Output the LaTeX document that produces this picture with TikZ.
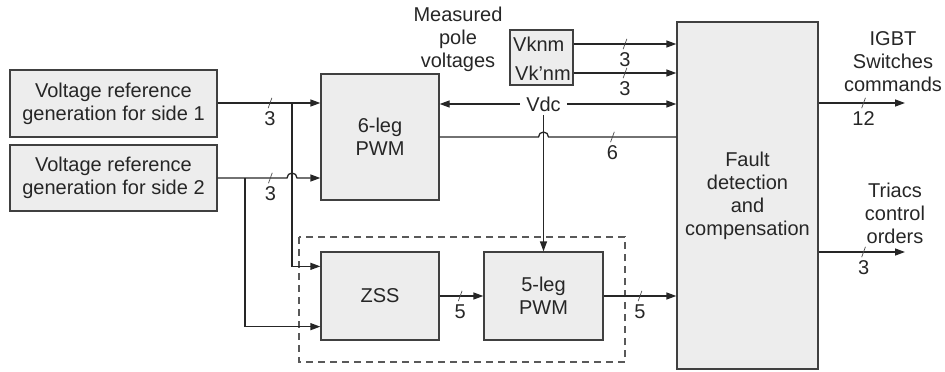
\documentclass[tikz,border=0pt]{standalone}
\usepackage{fontspec}
\setmainfont{Liberation Sans}
\usetikzlibrary{arrows.meta, calc}
\tikzset{
    block/.style={draw=black!75, fill=black!7, line width=1.3pt, align=center, inner sep=2pt},
    conn/.style={line width=1.3pt, black!85},
    arr/.style={conn, -{Triangle[length=10pt, width=7pt]}},
    busmark/.style={draw=black!70, line width=0.7pt, inner sep=0pt, minimum width=11pt, minimum height=0pt, rotate=70},
    num/.style={below=8pt, inner sep=0pt},
    dashbox/.style={draw=black!65, line width=1.3pt, dash pattern=on 7pt off 5pt}
}

\begin{document}
\begin{tikzpicture}[x=1pt, y=-1pt, font=\fontsize{20}{23}\selectfont, text=black!85]
    \useasboundingbox (0,0) rectangle (945,372);
    % blocks
    \node[block, minimum width=207pt, minimum height=67pt] (ref1) at (113.5,103.5) {Voltage reference\\generation for side 1};
    \node[block, minimum width=207pt, minimum height=66pt] (ref2) at (113.5,178) {Voltage reference\\generation for side 2};
    \node[block, minimum width=118pt, minimum height=126pt] (pwm6) at (380,137) {6-leg\\PWM};
    \node[block, minimum width=118pt, minimum height=88pt] (zss) at (380,296) {ZSS};
    \node[block, minimum width=119pt, minimum height=88pt] (pwm5) at (543.5,296) {5-leg\\PWM};
    \node[block, minimum width=141pt, minimum height=347pt] (fault) at (747.5,195.5) {Fault\\detection\\and\\compensation};
    \node[block, minimum width=63pt, minimum height=55pt] (vk) at (541.5,57.5) {};
    \node[anchor=west, inner sep=0pt] (vknm) at (513,44) {Vknm};
    \node[anchor=west, inner sep=0pt] (vkpnm) at (515,73) {Vk’nm};
    \draw[dashbox] (299,237) rectangle (625,362);

    % texts
    \node[align=center] (meas) at (458,39) {Measured\\pole\\voltages};
    \node[align=center] (igbt) at (893,62) {IGBT\\Switches\\commands};
    \node[align=center] (triac) at (895,213) {Triacs\\control\\orders};
    \node[inner xsep=6pt] (vdc) at (543.5,104) {Vdc};

    \coordinate (b1) at (292,103);
    \coordinate (b2) at (245,178);
    \coordinate (h1) at (b1 |- ref2.east);
    \coordinate (h2) at (vdc |- pwm6.east);
    \coordinate (out1) at (905,103);
    \coordinate (out2) at (905,252);

    % references to 6-leg PWM and ZSS
    \draw[arr] (ref1.east |- b1) -- node[busmark, pos=.51]{} node[num, pos=.51]{3} (pwm6.west |- b1);
    \draw[arr] (ref2.east) -- node[busmark, pos=.76]{} node[num, pos=.76]{3} ($(h1)+(-5,0)$)
        arc[start angle=180, end angle=0, radius=5pt] -- (pwm6.west |- ref2.east);
    \draw[arr] (b1) |- ($(zss.north west)+(0,15)$);
    \draw[arr] (b2) |- ($(zss.south west)+(0,-14)$);
    \draw[arr] (zss) -- node[busmark, pos=.47]{} node[num, pos=.47]{5} (pwm5);

    % Vdc
    \draw[arr] (vdc.west) -- (pwm6.east |- vdc.west);
    \draw[arr] (vdc.east) -- (fault.west |- vdc.east);
    \draw[arr] (vdc.south) -- (pwm5.north);

    % into fault detection
    \draw[arr] (vk.east |- vknm) -- node[busmark]{} node[num]{3} (fault.west |- vknm);
    \draw[arr] (vk.east |- vkpnm) -- node[busmark]{} node[num]{3} (fault.west |- vkpnm);
    \draw[conn] (pwm6.east) -- ($(h2)+(-5,0)$) arc[start angle=180, end angle=0, radius=5pt]
        -- node[busmark]{} node[num]{6} (fault.west |- pwm6.east);
    \draw[arr] (pwm5) -- node[busmark]{} node[num]{5} (fault.west |- pwm5);

    % outputs
    \draw[arr] (fault.east |- out1) -- node[busmark, pos=.52]{} node[num, pos=.52]{12} (out1);
    \draw[arr] (fault.east |- out2) -- node[busmark, pos=.52]{} node[num, pos=.52]{3} (out2);
\end{tikzpicture}
\end{document}
